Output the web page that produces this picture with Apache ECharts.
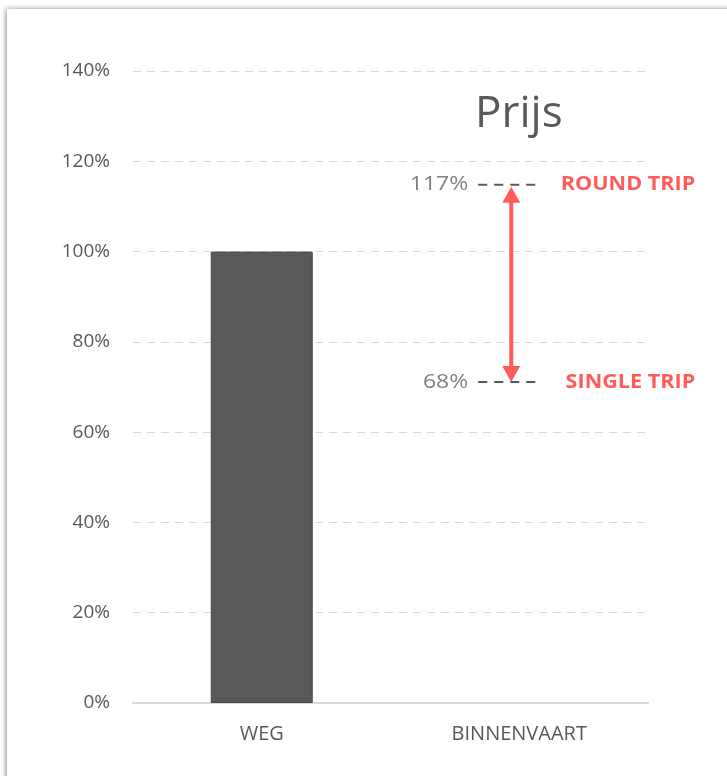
<!DOCTYPE html>
<html>
<head>
<meta charset="utf-8">
<script src="https://cdn.jsdelivr.net/npm/echarts@6.0.0/dist/echarts.min.js"></script>
<style>
  html, body { margin: 0; padding: 0; background: #fff; }
  #main { width: 727px; height: 776px; }
</style>
</head>
<body>
<div id="main"></div>
<script>
// categories and bar values
const categories = ['WEG', 'BINNENVAART'];
const barValues = [100, null];

// annotation on BINNENVAART
const tripLabels = ['ROUND TRIP', 'SINGLE TRIP'];
const tripValues = [117, 68];      // printed values
const tripMarks = [114.8, 71.1];   // where the dashed marks sit in the picture

const gray = '#595959';
const red = '#ff5b5b';
const font = '"Open Sans", "Liberation Sans", sans-serif';

function renderTrip(params, api) {
  const c = api.coord([api.value(0), api.value(1)]);
  const i = params.dataIndex;
  return {
    type: 'group',
    children: [
      {
        type: 'line',
        shape: { x1: c[0] - 41, y1: c[1], x2: c[0] + 21, y2: c[1] },
        style: { stroke: gray, lineWidth: 2, lineDash: [9, 7] }
      },
      {
        type: 'text',
        x: c[0] - 51, y: c[1],
        scaleX: 1.15,
        style: {
          text: tripValues[i] + '%', x: 0, y: 0,
          align: 'right', verticalAlign: 'middle',
          fill: '#808080', font: '20px ' + font
        }
      },
      {
        type: 'text',
        x: c[0] + 176, y: c[1],
        scaleX: 1.08,
        style: {
          text: tripLabels[i], x: 0, y: 0,
          align: 'right', verticalAlign: 'middle',
          fill: red, font: 'bold 20px ' + font
        }
      }
    ]
  };
}

function renderArrow(params, api) {
  const top = api.coord([api.value(0), api.value(1)]);
  const bot = api.coord([api.value(0), api.value(2)]);
  const x = top[0] - 8;
  const y1 = top[1] + 2;
  const y2 = bot[1];
  const hw = 9, hl = 16;
  return {
    type: 'group',
    children: [
      {
        type: 'line',
        shape: { x1: x, y1: y1 + hl - 2, x2: x, y2: y2 - hl + 2 },
        style: { stroke: red, lineWidth: 4 }
      },
      {
        type: 'polygon',
        shape: { points: [[x, y1], [x - hw, y1 + hl], [x + hw, y1 + hl]] },
        style: { fill: red }
      },
      {
        type: 'polygon',
        shape: { points: [[x, y2], [x - hw, y2 - hl], [x + hw, y2 - hl]] },
        style: { fill: red }
      }
    ]
  };
}

const chart = echarts.init(document.getElementById('main'));
chart.setOption({
  animation: false,
  backgroundColor: '#fff',
  graphic: [
    {
      type: 'rect',
      z: -100,
      shape: { x: 7, y: 9, width: 760, height: 800 },
      style: {
        fill: '#fff',
        shadowBlur: 5,
        shadowColor: 'rgba(0,0,0,0.45)',
        shadowOffsetX: -1,
        shadowOffsetY: 0
      }
    }
  ],
  title: {
    text: 'Prijs',
    left: 470,
    top: 87,
    textStyle: { fontFamily: font, fontSize: 44, fontWeight: 'normal', color: gray }
  },
  grid: { left: 133, right: 79, top: 71, bottom: 73 },
  xAxis: {
    type: 'category',
    data: categories,
    axisTick: { show: false },
    axisLine: { show: true, lineStyle: { color: '#d9d9d9', width: 2 } },
    axisLabel: { color: gray, fontFamily: font, fontSize: 20, margin: 21 }
  },
  yAxis: {
    type: 'value',
    min: 0,
    max: 140,
    interval: 20,
    axisLine: { show: false },
    axisTick: { show: false },
    axisLabel: {
      formatter: '{value}%',
      color: gray, fontFamily: font, fontSize: 19, margin: 23
    },
    splitLine: { show: true, lineStyle: { color: '#d9d9d9', width: 1, type: [8, 6] } }
  },
  series: [
    {
      type: 'bar',
      data: barValues,
      barWidth: 102,
      itemStyle: { color: gray, borderColor: '#4a4a4a', borderWidth: 1 }
    },
    {
      type: 'custom',
      data: tripMarks.map((v) => [1, v]),
      renderItem: renderTrip,
      clip: false,
      z: 5
    },
    {
      type: 'custom',
      data: [[1, tripMarks[0], tripMarks[1]]],
      renderItem: renderArrow,
      clip: false,
      z: 6
    }
  ]
});
</script>
</body>
</html>
